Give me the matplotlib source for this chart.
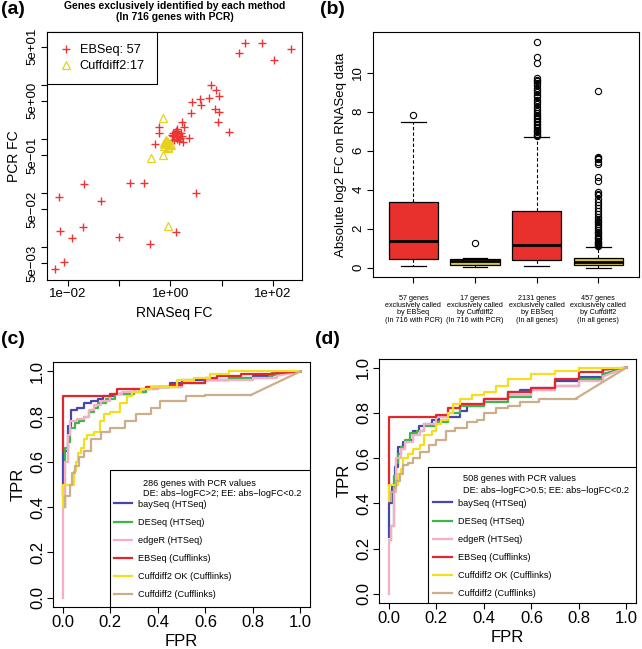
import numpy as np
import matplotlib
matplotlib.use('Agg')
import matplotlib.pyplot as plt
from matplotlib.patches import Rectangle

plt.rcParams['font.family'] = ['Liberation Sans', 'DejaVu Sans']
plt.rcParams['axes.unicode_minus'] = True

# ---- panel (a): log10 fold changes ----
ebseq_log_rna = [1.46, 1.78, 1.33, 2.35, 2.03, 0.79, 0.89, 0.94, 0.76, 0.58, 0.60, 0.43, 0.87, 0.94,
                 0.92, 0.40, 1.14, 0.22, 0.26, 0.13, 0.09, 0.12, 0.19, 0.36, 0.25, -0.22, -0.23, -0.30,
                 0.05, 0.10, 0.12, 0.15, 0.08, 0.18, 0.20, 0.13, 0.06, 0.16, 0.22, 0.14, 0.03,
                 -1.69, -0.79, -0.52, -2.18, -1.35, 0.50, -2.15, -1.71, -1.92, -1.01, -0.39, 0.10,
                 -2.07, -2.25, 0.04, 0.11]
ebseq_log_pcr = [1.76, 1.77, 1.58, 1.66, 1.45, 0.99, 0.89, 0.79, 0.76, 0.74, 0.62, 0.67, 0.54, 0.49,
                 0.31, 0.47, 0.12, 0.30, 0.21, 0.17, 0.10, 0.04, 0.01, 0.01, -0.07, 0.21, 0.11, -0.10,
                 0.05, 0.12, 0.00, 0.08, -0.03, 0.02, 0.10, 0.15, 0.10, -0.05, 0.05, 0.03, 0.07,
                 -0.84, -0.81, -0.82, -1.08, -1.15, -1.01, -1.70, -1.64, -1.83, -1.82, -1.95, -1.73,
                 -2.28, -2.41, -0.02, 0.14]
cuff_log_rna = [-0.14, -0.38, -0.14, -0.04, -0.12, -0.07, -0.03, -0.05, -0.10, 0.00, -0.08, -0.13,
                -0.06, 0.01, -0.09, -0.11, -0.04]
cuff_log_pcr = [0.39, -0.35, -0.30, -1.62, -0.08, -0.05, -0.12, -0.16, -0.10, -0.10, -0.02, -0.14,
                -0.08, -0.12, -0.04, -0.06, -0.18]

# ---- panel (b): boxplot summaries ----
box_labels = ["57 genes\nexclusively called\nby EBSeq\n(In 716 with PCR)",
              "17 genes\nexclusively called\nby Cuffdiff2\n(In 716 with PCR)",
              "2131 genes\nexclusively called\nby EBSeq\n(In all genes)",
              "457 genes\nexclusively called\nby Cuffdiff2\n(In all genes)"]
box_whislo = [0.10, 0.03, 0.07, 0.00]
box_q1 = [0.43, 0.14, 0.41, 0.14]
box_med = [1.37, 0.36, 1.16, 0.31]
box_q3 = [3.35, 0.43, 2.92, 0.51]
box_whishi = [7.49, 0.48, 6.72, 1.06]
box_fliers = [
    [7.81],
    [1.28],
    [6.76, 6.82, 6.88, 6.95, 7.02, 7.08, 7.15, 7.22, 7.30, 7.38, 7.45, 7.52, 7.60, 7.68, 7.76,
     7.85, 7.95, 8.05, 8.15, 8.25, 8.38, 8.50, 8.62, 8.75, 8.88, 9.00, 9.10, 9.22, 9.35, 9.45,
     9.55, 9.65, 9.72, 10.50, 10.82, 11.55],
    [1.10, 1.15, 1.20, 1.26, 1.32, 1.38, 1.45, 1.52, 1.60, 1.68, 1.76, 1.85, 1.93, 2.02, 2.12,
     2.22, 2.32, 2.42, 2.52, 2.62, 2.75, 2.90, 3.08, 3.22, 3.35, 3.50, 3.72, 3.80, 3.88, 4.45,
     4.65, 5.30, 5.42, 5.55, 5.62, 5.68, 9.05],
]
box_colors = ['#E8302C', '#D9C52A', '#E8302C', '#D9C52A']

# ---- panels (c) and (d): ROC curves ----
methods = ['baySeq (HTSeq)', 'DESeq (HTSeq)', 'edgeR (HTSeq)', 'EBSeq (Cufflinks)',
           'Cuffdiff2 OK (Cufflinks)', 'Cuffdiff2 (Cufflinks)']
method_colors = ['#4646AE', '#3DB54A', '#F6ADC6', '#E3262B', '#F5DE1E', '#CDAE8A']

roc_c_fpr = [
    [0, 0, 0.02, 0.035, 0.06, 0.09, 0.12, 0.15, 0.17, 0.22, 0.27, 0.30, 0.35, 0.40, 0.45, 0.50, 0.60, 0.70, 0.80, 0.88, 1.0],
    [0.01, 0.01, 0.02, 0.03, 0.05, 0.07, 0.09, 0.11, 0.13, 0.15, 0.18, 0.22, 0.30, 0.35, 0.40, 0.50, 0.60, 0.70, 0.80, 0.87, 1.0],
    [0, 0, 0.01, 0.02, 0.03, 0.06, 0.09, 0.11, 0.13, 0.16, 0.20, 0.25, 0.30, 0.40, 0.50, 0.60, 0.70, 0.80, 0.90, 1.0],
    [0, 0, 0.18, 0.20, 0.23, 0.30, 0.35, 0.45, 0.50, 0.60, 0.65, 0.75, 0.88, 1.0],
    [0, 0, 0.045, 0.055, 0.065, 0.075, 0.09, 0.10, 0.13, 0.155, 0.175, 0.20, 0.24, 0.27, 0.29, 0.33, 0.37, 0.42, 0.48, 0.55, 0.62, 0.70, 1.0],
    [0.01, 0.01, 0.03, 0.04, 0.05, 0.07, 0.09, 0.12, 0.16, 0.20, 0.26, 0.31, 0.37, 0.41, 0.45, 0.52, 0.60, 0.79, 1.0],
]
roc_c_tpr = [
    [0.45, 0.65, 0.76, 0.83, 0.84, 0.86, 0.87, 0.88, 0.89, 0.90, 0.91, 0.91, 0.93, 0.93, 0.95, 0.96, 0.96, 0.97, 0.98, 0.99, 1.0],
    [0.40, 0.66, 0.69, 0.75, 0.77, 0.78, 0.80, 0.82, 0.84, 0.86, 0.88, 0.90, 0.91, 0.92, 0.93, 0.95, 0.96, 0.97, 0.97, 0.98, 1.0],
    [0.0, 0.40, 0.60, 0.72, 0.78, 0.79, 0.80, 0.83, 0.85, 0.87, 0.90, 0.91, 0.92, 0.93, 0.95, 0.96, 0.96, 0.97, 0.98, 1.0],
    [0.65, 0.89, 0.89, 0.90, 0.92, 0.92, 0.93, 0.94, 0.95, 0.97, 0.98, 0.99, 0.99, 1.0],
    [0.40, 0.50, 0.56, 0.60, 0.64, 0.66, 0.70, 0.72, 0.73, 0.78, 0.81, 0.82, 0.86, 0.89, 0.91, 0.92, 0.93, 0.93, 0.96, 0.97, 0.99, 1.0, 1.0],
    [0.40, 0.45, 0.50, 0.55, 0.58, 0.62, 0.65, 0.70, 0.73, 0.75, 0.78, 0.81, 0.84, 0.87, 0.87, 0.89, 0.895, 0.895, 1.0],
]

roc_d_fpr = [
    [0, 0, 0.015, 0.027, 0.04, 0.06, 0.08, 0.10, 0.127, 0.15, 0.18, 0.21, 0.28, 0.30, 0.33, 0.40, 0.50, 0.55, 0.60, 0.70, 0.80, 0.90, 1.0],
    [0.01, 0.01, 0.02, 0.03, 0.04, 0.05, 0.07, 0.09, 0.12, 0.15, 0.20, 0.25, 0.30, 0.40, 0.50, 0.60, 0.70, 0.80, 0.90, 1.0],
    [0, 0, 0.01, 0.02, 0.03, 0.05, 0.07, 0.10, 0.13, 0.15, 0.20, 0.25, 0.30, 0.40, 0.50, 0.60, 0.70, 0.80, 0.90, 1.0],
    [0, 0, 0.18, 0.20, 0.25, 0.30, 0.40, 0.50, 0.60, 0.70, 0.80, 0.90, 1.0],
    [0, 0, 0.03, 0.04, 0.05, 0.06, 0.08, 0.10, 0.13, 0.15, 0.18, 0.20, 0.22, 0.25, 0.27, 0.30, 0.35, 0.40, 0.45, 0.50, 0.60, 0.70, 0.80, 1.0],
    [0.01, 0.01, 0.02, 0.03, 0.047, 0.06, 0.08, 0.10, 0.13, 0.17, 0.20, 0.24, 0.28, 0.33, 0.37, 0.40, 0.45, 0.50, 0.55, 0.63, 0.79, 1.0],
]
roc_d_tpr = [
    [0.25, 0.40, 0.48, 0.56, 0.65, 0.67, 0.68, 0.72, 0.74, 0.75, 0.77, 0.78, 0.78, 0.81, 0.83, 0.86, 0.89, 0.90, 0.91, 0.94, 0.96, 0.97, 1.0],
    [0.24, 0.30, 0.52, 0.58, 0.62, 0.65, 0.68, 0.71, 0.72, 0.74, 0.76, 0.80, 0.83, 0.85, 0.87, 0.90, 0.92, 0.95, 0.97, 1.0],
    [0.0, 0.24, 0.30, 0.45, 0.60, 0.64, 0.67, 0.70, 0.72, 0.75, 0.78, 0.82, 0.84, 0.86, 0.88, 0.90, 0.92, 0.94, 0.96, 1.0],
    [0.48, 0.78, 0.78, 0.79, 0.82, 0.84, 0.86, 0.89, 0.91, 0.95, 0.98, 0.99, 1.0],
    [0.41, 0.48, 0.48, 0.53, 0.55, 0.60, 0.62, 0.64, 0.66, 0.70, 0.72, 0.75, 0.77, 0.80, 0.84, 0.86, 0.88, 0.89, 0.92, 0.95, 0.97, 0.985, 1.0, 1.0],
    [0.41, 0.45, 0.47, 0.50, 0.53, 0.57, 0.58, 0.60, 0.625, 0.66, 0.68, 0.72, 0.735, 0.76, 0.77, 0.80, 0.82, 0.83, 0.85, 0.86, 0.865, 1.0],
]

fig = plt.figure(figsize=(6.42, 6.49), dpi=100)

def px_axes(left, top, right, bottom):
    W, H = 642.0, 649.0
    return fig.add_axes([left / W, 1 - bottom / H, (right - left) / W, (bottom - top) / H])

tick_kw = dict(direction='out', length=4, width=0.8, color='black')

# ---------------- (a) ----------------
ax = px_axes(47, 32, 302, 280)
ax.set_xscale('log')
ax.set_yscale('log')
ax.plot(10 ** np.array(ebseq_log_rna), 10 ** np.array(ebseq_log_pcr), '+', color='#EE3333',
        ms=6.3, mew=1.0, label='EBSeq: 57')
ax.plot(10 ** np.array(cuff_log_rna), 10 ** np.array(cuff_log_pcr), '^', mfc='none', mec='#E6D21E',
        ms=5.8, mew=0.9, label='Cuffdiff2:17')
ax.set_xlim(10 ** -2.41, 10 ** 2.57)
ax.set_ylim(10 ** -2.61, 10 ** 1.97)
ax.set_xticks([1e-2, 1e-1, 1, 10, 100])
ax.set_xticklabels(['1e\u221202', '', '1e+00', '', '1e+02'])
ax.set_yticks([0.005, 0.01, 0.05, 0.1, 0.5, 1, 5, 10, 50])
ax.set_yticklabels(['5e\u221203', '', '5e\u221202', '', '5e\u221201', '', '5e+00', '', '5e+01'],
                   rotation=90, va='center')
ax.minorticks_off()
ax.tick_params(labelsize=9.5, pad=2, **tick_kw)
ax.set_xlabel('RNASeq FC', fontsize=10, labelpad=4)
ax.set_ylabel('PCR FC', fontsize=10, labelpad=4)
leg = ax.legend(loc='upper left', bbox_to_anchor=(0, 1), borderaxespad=0, fontsize=9.2,
                handlelength=1.0, handletextpad=0.6, borderpad=0.95, labelspacing=0.3,
                fancybox=False, edgecolor='black', framealpha=1)
leg.get_frame().set_linewidth(0.8)
fig.text(174.5 / 642, 1 - 1 / 649, 'Genes exclusively identified by each method\n(In 716 genes with PCR)',
         ha='center', va='top', fontsize=7.5, fontweight='bold', linespacing=1.1)

# ---------------- (b) ----------------
ax = px_axes(372.7, 32.3, 639, 276.7)
stats = []
for i in range(4):
    stats.append(dict(med=box_med[i], q1=box_q1[i], q3=box_q3[i], whislo=box_whislo[i],
                      whishi=box_whishi[i], fliers=box_fliers[i]))
bp = ax.bxp(stats, positions=[1, 2, 3, 4], widths=0.8, patch_artist=True, capwidths=0.4,
            boxprops=dict(linewidth=0.9, edgecolor='black'),
            medianprops=dict(color='black', linewidth=2),
            whiskerprops=dict(linestyle=(0, (3, 2)), linewidth=0.8),
            capprops=dict(linewidth=0.9),
            flierprops=dict(marker='o', mfc='none', mec='black', ms=4.5, mew=0.8))
for patch, c in zip(bp['boxes'], box_colors):
    patch.set_facecolor(c)
ax.set_xlim(0.34, 4.66)
ax.set_ylim(-0.46, 12.07)
ax.set_yticks([0, 2, 4, 6, 8, 10])
ax.set_yticklabels(['0', '2', '4', '6', '8', '10'], rotation=90, va='center')
ax.set_xticks([1, 2, 3, 4])
ax.set_xticklabels(box_labels, fontsize=5.2, linespacing=1.05)
ax.tick_params(axis='y', labelsize=9.5, pad=2, **tick_kw)
ax.tick_params(axis='x', pad=9, **tick_kw)
ax.set_ylabel('Absolute log2 FC on RNASeq data', fontsize=9.5, labelpad=4)

# ---------------- (c) and (d) ----------------
roc_panels = [
    ((53.3, 362.3, 310, 606.7), roc_c_fpr, roc_c_tpr, '286 genes with PCR values',
     'DE: abs\u2212logFC>2; EE: abs\u2212logFC<0.2', (0.221, 0.559), (0.349, 0.505, 0.464), (0.235, 0.438)),
    ((379.3, 358.5, 636, 603), roc_d_fpr, roc_d_tpr, '508 genes with PCR values',
     'DE: abs\u2212logFC>0.5; EE: abs\u2212logFC<0.2', (0.189, 0.556), (0.325, 0.509, 0.461), (0.21, 0.427)),
]
for box, fprs, tprs, t1, t2, frame, title_pos, leg_anchor in roc_panels:
    ax = px_axes(*box)
    handles = []
    for fpr, tpr, name, col in zip(fprs, tprs, methods, method_colors):
        line, = ax.plot(fpr[:-1], tpr[:-1], drawstyle='steps-post', color=col, lw=1.6, label=name)
        ax.plot(fpr[-2:], tpr[-2:], color=col, lw=1.6)
        handles.append(line)
    ax.set_xlim(-0.04, 1.04)
    ax.set_ylim(-0.04, 1.04)
    ax.set_xticks([0, 0.2, 0.4, 0.6, 0.8, 1.0])
    ax.set_xticklabels(['0.0', '0.2', '0.4', '0.6', '0.8', '1.0'])
    ax.set_yticks([0, 0.2, 0.4, 0.6, 0.8, 1.0])
    ax.set_yticklabels(['0.0', '0.2', '0.4', '0.6', '0.8', '1.0'], rotation=90, va='center')
    ax.tick_params(labelsize=12, pad=2, **tick_kw)
    ax.set_xlabel('FPR', fontsize=12, labelpad=3)
    ax.set_ylabel('TPR', fontsize=12, labelpad=3)
    # legend frame runs from its left edge to the right spine and down to the bottom spine
    ax.add_patch(Rectangle((frame[0], 0), 1 - frame[0], frame[1], transform=ax.transAxes,
                           facecolor='white', edgecolor='black', lw=0.8, zorder=5))
    ax.text(title_pos[0], title_pos[1], t1, transform=ax.transAxes, fontsize=6.6, va='center', zorder=6)
    ax.text(title_pos[0], title_pos[2], t2, transform=ax.transAxes, fontsize=6.6, va='center', zorder=6)
    leg = ax.legend(handles=handles, loc='upper left', bbox_to_anchor=leg_anchor, frameon=False,
                    fontsize=6.6, handlelength=2.0, handletextpad=0.7, labelspacing=1.0,
                    borderpad=0, borderaxespad=0)
    leg.set_zorder(7)

# panel letters
for lab, x, y in [('(a)', 1, 1), ('(b)', 320, 1), ('(c)', 1, 331), ('(d)', 315, 331)]:
    fig.text(x / 642, 1 - y / 649, lab, fontsize=14, fontweight='bold', va='top', ha='left')

fig.savefig('out.png', dpi=100)
